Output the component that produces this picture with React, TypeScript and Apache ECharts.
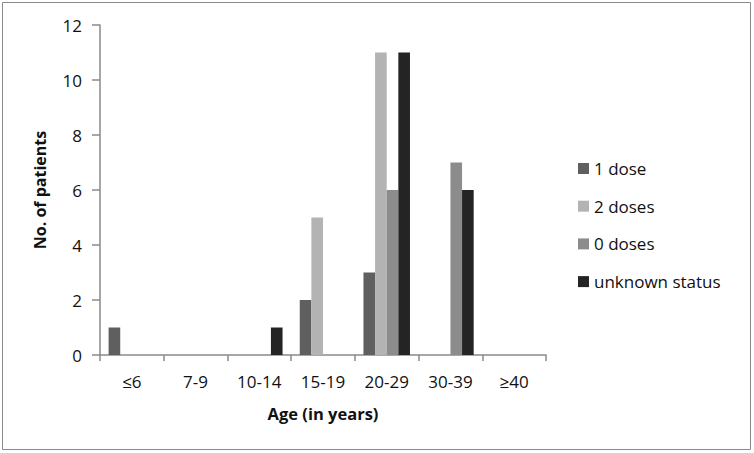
import React, { useEffect, useRef } from "react";
import * as echarts from "echarts";

const categories = ["≤6", "7-9", "10-14", "15-19", "20-29", "30-39", "≥40"];
const oneDose = [1, 0, 0, 2, 3, 0, 0];
const twoDoses = [0, 0, 0, 5, 11, 0, 0];
const zeroDoses = [0, 0, 0, 0, 6, 7, 0];
const unknownStatus = [0, 0, 1, 0, 11, 6, 0];
const seriesNames = ["1 dose", "2 doses", "0 doses", "unknown status"];
const seriesColors = ["#5f5f5f", "#b3b3b3", "#8c8c8c", "#242424"];

const FONT = "Open Sans";

export default function App() {
  const ref = useRef<HTMLDivElement>(null);
  useEffect(() => {
    if (!ref.current) return;
    const chart = echarts.init(ref.current, undefined, { renderer: "svg" });
    const data = [oneDose, twoDoses, zeroDoses, unknownStatus];
    chart.setOption({
      animation: false,
      textStyle: { fontFamily: FONT },
      graphic: [
        {
          type: "rect",
          shape: { x: 2.5, y: 2.5, width: 748, height: 447 },
          style: { fill: "none", stroke: "#8a8a8a", lineWidth: 1 },
        },
      ],
      grid: { left: 100, top: 25, right: 208, bottom: 98, containLabel: false },
      legend: {
        orient: "vertical",
        left: 573,
        top: 155,
        itemWidth: 11,
        itemHeight: 11,
        itemGap: 20.7,
        icon: "rect",
        textStyle: { fontFamily: FONT, fontSize: 17, color: "#111" },
        data: seriesNames,
      },
      xAxis: {
        type: "category",
        data: categories,
        name: "Age (in years)",
        nameLocation: "middle",
        nameGap: 50,
        nameTextStyle: { fontFamily: FONT, fontSize: 16.5, fontWeight: "bold", color: "#111" },
        axisLine: { lineStyle: { color: "#8a8a8a", width: 1.5 } },
        axisTick: { show: true, length: 6, lineStyle: { color: "#8a8a8a", width: 1.5 } },
        axisLabel: { fontFamily: FONT, fontSize: 17, color: "#111", margin: 18 },
      },
      yAxis: {
        type: "value",
        min: 0,
        max: 12,
        interval: 2,
        name: "No. of patients",
        nameLocation: "middle",
        nameGap: 52,
        nameTextStyle: { fontFamily: FONT, fontSize: 16, fontWeight: "bold", color: "#111" },
        axisLine: { show: true, lineStyle: { color: "#8a8a8a", width: 1.5 } },
        axisTick: { show: true, length: 8, lineStyle: { color: "#8a8a8a", width: 1.5 } },
        axisLabel: { fontFamily: FONT, fontSize: 17, color: "#111", margin: 18 },
        splitLine: { show: false },
      },
      series: seriesNames.map((name, i) => ({
        name,
        type: "bar",
        data: data[i],
        itemStyle: { color: seriesColors[i] },
        barGap: "0%",
        barCategoryGap: "27%",
      })),
    });
    return () => chart.dispose();
  }, []);
  return (
    <div
      ref={ref}
      style={{ position: "fixed", left: 0, top: 0, width: 754, height: 453, background: "#fff" }}
    />
  );
}
